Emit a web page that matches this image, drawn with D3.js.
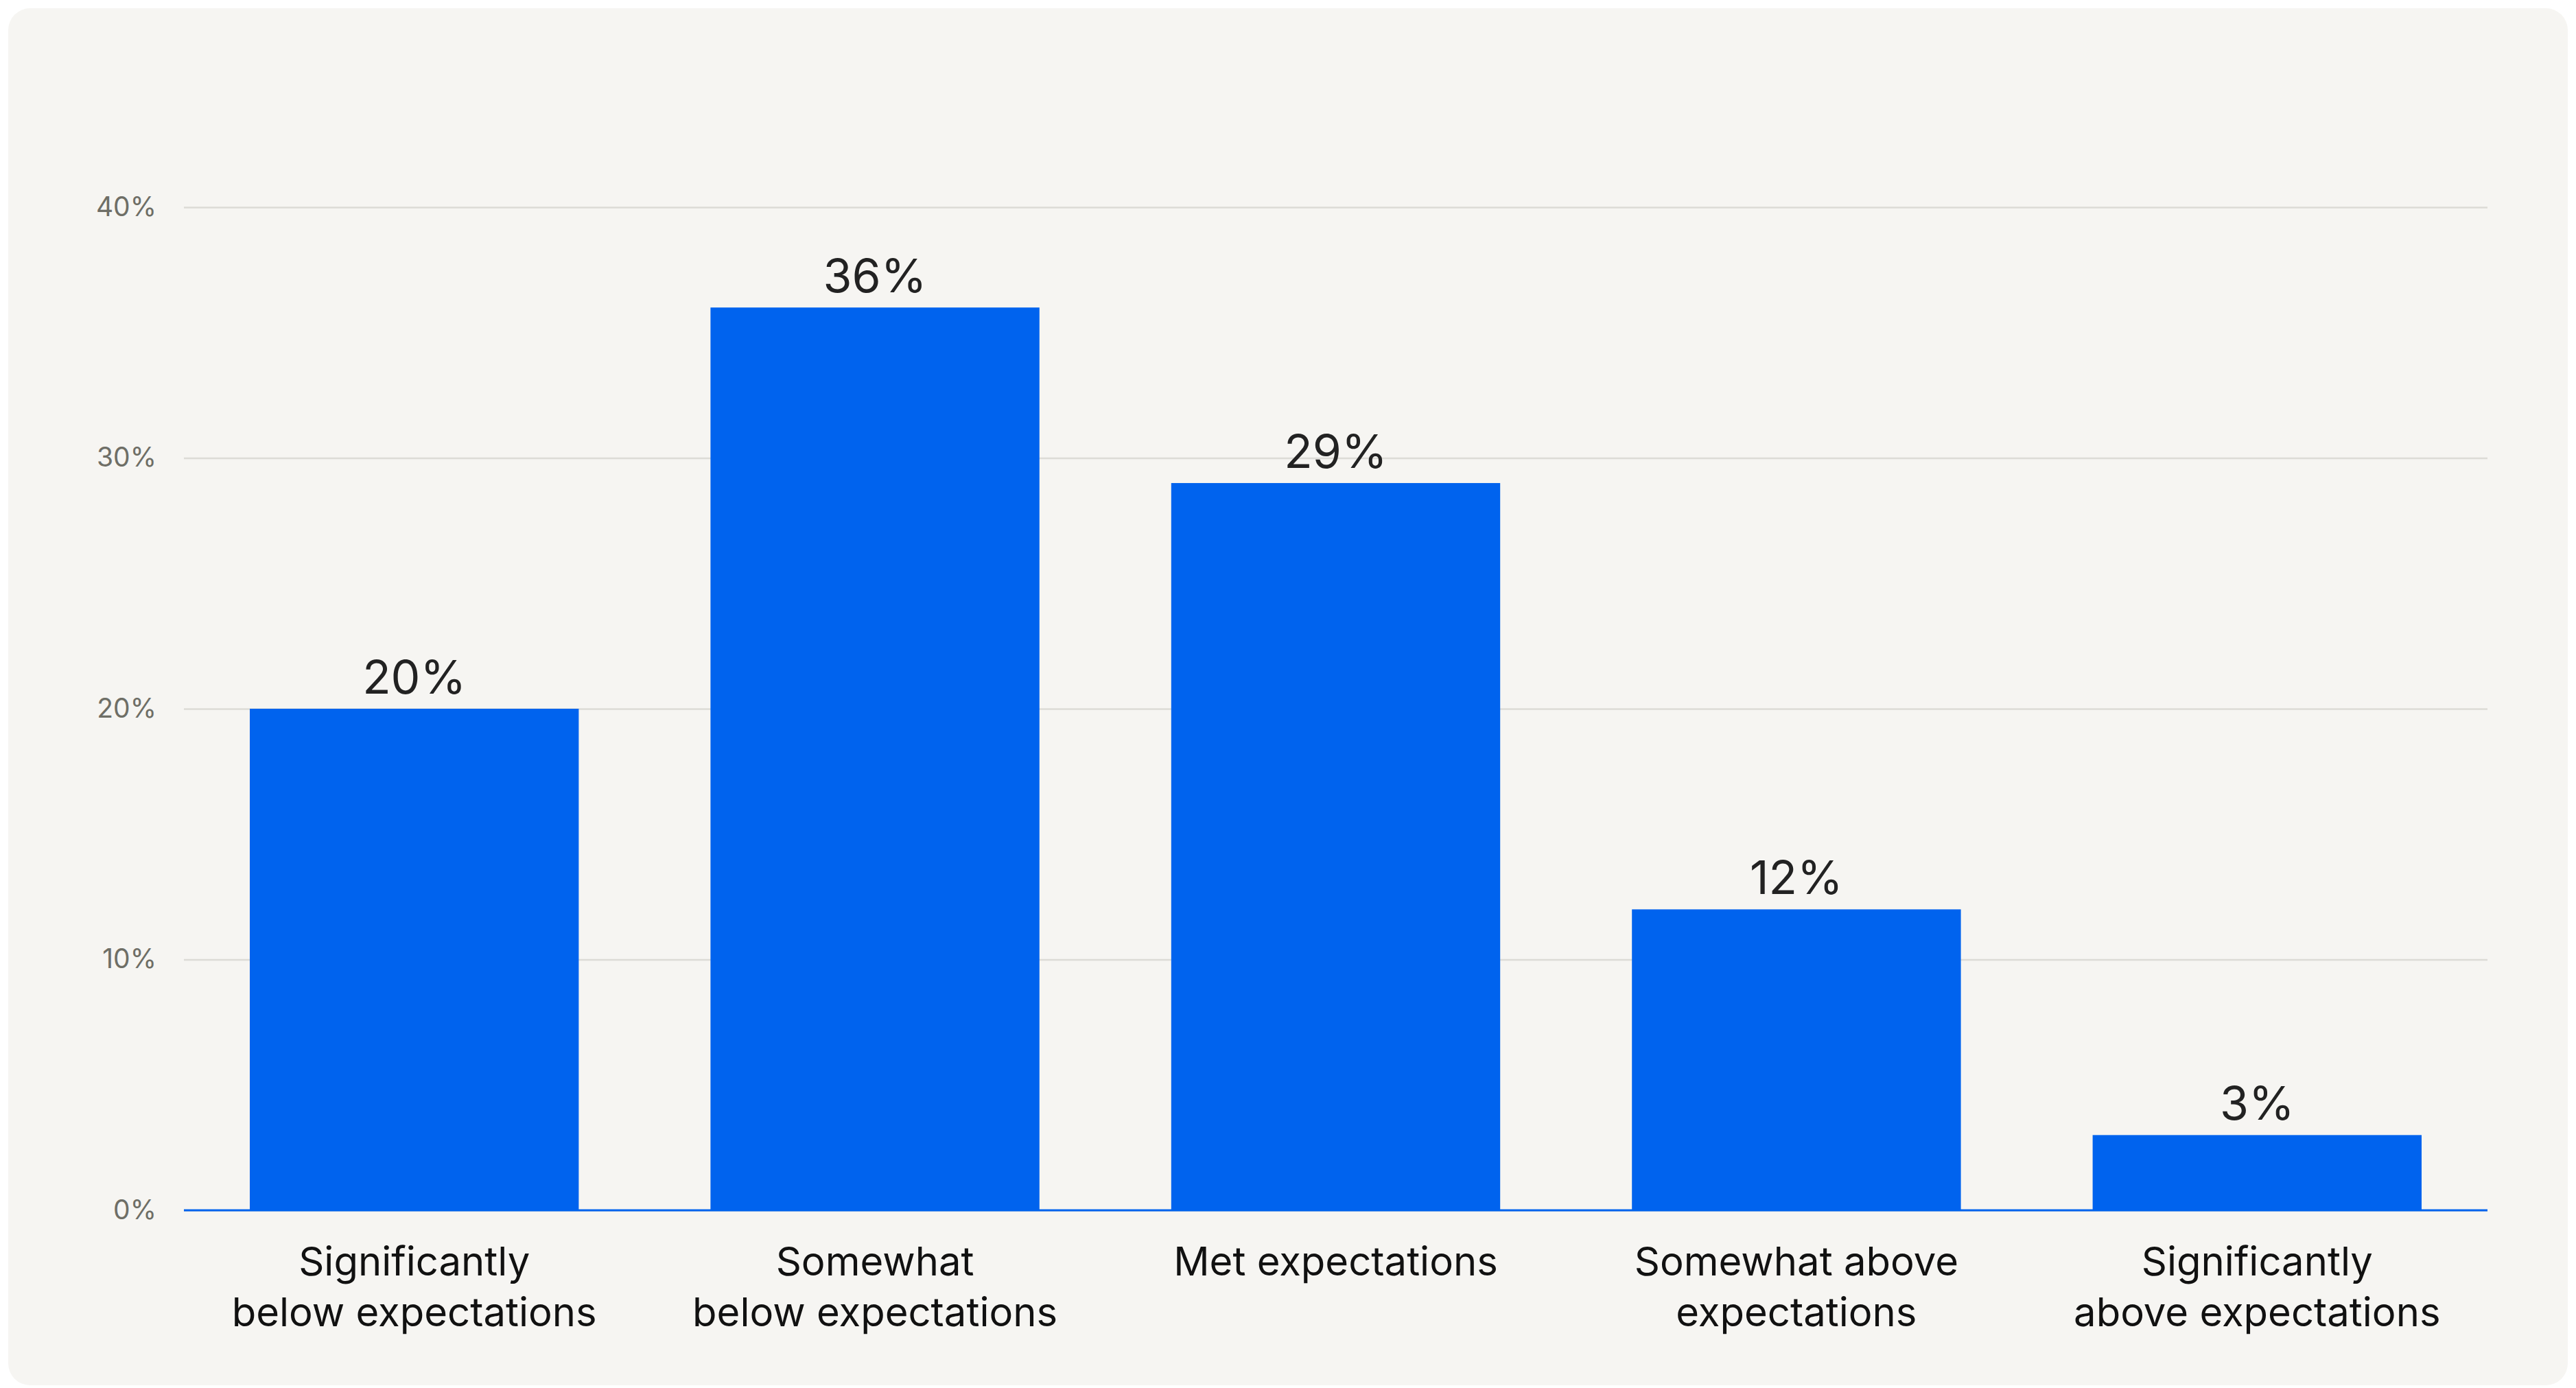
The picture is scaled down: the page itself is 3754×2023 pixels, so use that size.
<!DOCTYPE html>
<html>
<head>
<meta charset="utf-8">
<script src="https://cdn.jsdelivr.net/npm/d3@7"></script>
<style>
  body { margin: 0; background: #ffffff; }
  svg { display: block; font-family: "Inter", "Lato", sans-serif; }
</style>
</head>
<body>
<svg id="chart"></svg>
<script>
var categories = [
    ["Significantly", "below expectations"],
    ["Somewhat", "below expectations"],
    ["Met expectations"],
    ["Somewhat above", "expectations"],
    ["Significantly", "above expectations"]
];
var values = [20, 36, 29, 12, 3];
var yTicks = [0, 10, 20, 30, 40];

var svgWidth = 3754;
var svgHeight = 2023;
var margin = {top: 302, right: 129, bottom: 259, left: 268};
var width = svgWidth - margin.left - margin.right;
var height = svgHeight - margin.top - margin.bottom;

var svg = d3.select("#chart")
            .attr("width", svgWidth)
            .attr("height", svgHeight);

// card background
svg.append("rect")
    .attr("x", 12)
    .attr("y", 12)
    .attr("width", svgWidth - 24)
    .attr("height", svgHeight - 16)
    .attr("rx", 32)
    .attr("fill", "#f6f5f2");

var g = svg.append("g")
            .attr("transform", "translate(" + margin.left + "," + margin.top + ")");

var x = d3.scaleBand()
            .domain(d3.range(categories.length))
            .range([0, width])
            .paddingInner(0.286)
            .paddingOuter(0.143);

var y = d3.scaleLinear()
            .domain([0, 40])
            .range([height, 0]);

// gridlines + y labels
var yAxis = g.append("g")
    .call(d3.axisLeft(y)
        .tickValues(yTicks)
        .tickSize(-width)
        .tickPadding(40)
        .tickFormat(function(d) { return d + "%"; }));

yAxis.select(".domain").remove();
yAxis.selectAll(".tick line")
    .attr("stroke", "#dcdbd6")
    .attr("stroke-width", 2.5);
yAxis.selectAll(".tick text")
    .attr("fill", "#6e6e66")
    .attr("font-size", 39)
    .attr("font-family", "Inter, sans-serif");

// bars
g.selectAll(".bar")
    .data(values)
    .enter()
    .append("rect")
    .attr("class", "bar")
    .attr("x", function(d, i) { return x(i); })
    .attr("y", function(d) { return y(d); })
    .attr("width", x.bandwidth())
    .attr("height", function(d) { return height - y(d); })
    .attr("fill", "#0063ee");

// baseline
g.append("line")
    .attr("x1", 0)
    .attr("x2", width)
    .attr("y1", y(0))
    .attr("y2", y(0))
    .attr("stroke", "#0063ee")
    .attr("stroke-width", 3);

// value labels
g.selectAll(".value")
    .data(values)
    .enter()
    .append("text")
    .attr("class", "value")
    .attr("x", function(d, i) { return x(i) + x.bandwidth() / 2; })
    .attr("y", function(d) { return y(d) - 22; })
    .attr("text-anchor", "middle")
    .attr("fill", "#222222")
    .attr("font-size", 68)
    .text(function(d) { return d + "%"; });

// category labels
var cat = g.selectAll(".cat")
    .data(categories)
    .enter()
    .append("text")
    .attr("class", "cat")
    .attr("x", function(d, i) { return x(i) + x.bandwidth() / 2; })
    .attr("y", height + 95)
    .attr("text-anchor", "middle")
    .attr("fill", "#111111")
    .attr("font-size", 58);

cat.selectAll("tspan")
    .data(function(d) { return d; })
    .enter()
    .append("tspan")
    .attr("x", function() { return d3.select(this.parentNode).attr("x"); })
    .attr("dy", function(d, i) { return i === 0 ? 0 : 74; })
    .text(function(d) { return d; });
</script>
</body>
</html>
